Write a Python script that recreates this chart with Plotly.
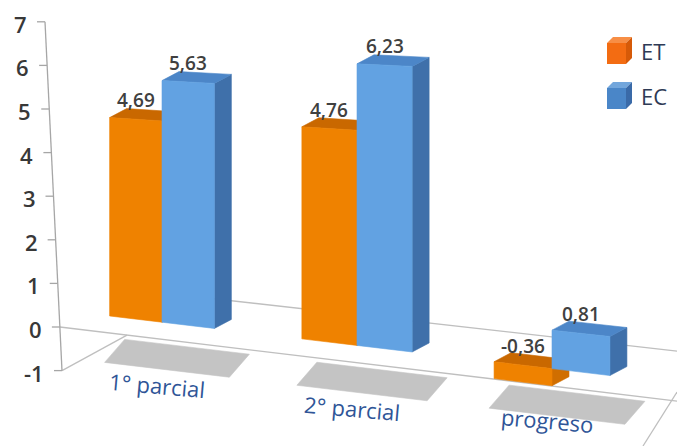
import plotly.graph_objects as go

# ---------------------------------------------------------------- data
categories = ["1° parcial", "2° parcial", "progreso"]
series_names = ["ET", "EC"]
et_values = [4.69, 4.76, -0.36]
ec_values = [5.63, 6.23, 0.81]
y_tick_values = [-1, 0, 1, 2, 3, 4, 5, 6, 7]

# ---------------------------------------------------------------- styling
W, H = 677, 446
FONT = "Open Sans"
COLORS = {
    "ET": {"front": "#EF8200", "side": "#D06E00", "top": "#C96800"},
    "EC": {"front": "#62A2E2", "side": "#3F70AA", "top": "#4C86C8"},
}
LINE_GREY = "#BFBFBF"
SHADOW_GREY = "#C4C4C4"

# ---------------------------------------------------------------- projection
# The chart is drawn as a pseudo-3D column chart: every column is a box whose
# screen position comes from a light perspective of (category, value).
AXIS_ZERO_PX = 327.0     # screen row of value 0 on the value axis
AXIS_UNIT_PX = 43.6      # pixels per unit on the value axis
GROUP_X0 = 162.0         # screen x of the first category centre
GROUP_STEP = 195.0       # spacing between categories
DEPTH = (17.0, -9.0)     # receding edge of each column
FLOOR_DEPTH = (20.0, -23.0)


def base_row(xp):
    """Screen row of value 0 at the column fronts (floor tilts to the right)."""
    return 319.0 + 0.119 * (xp - 135.0)


def unit_px(xp):
    """Pixels per value unit at the column fronts (slightly larger to the right)."""
    return 42.6 + 0.0117 * (xp - 135.0)


def col_row(xp, v):
    return base_row(xp) - unit_px(xp) * v


def to_axes(xp, yp):
    """Screen pixel -> (category units, value units) of the plot axes."""
    return (xp - GROUP_X0) / GROUP_STEP, (AXIS_ZERO_PX - yp) / AXIS_UNIT_PX


def axis_x_px(v):
    """The value axis leans slightly (perspective)."""
    return 45.0 + (7.0 - v) * 17.0 / 8.0


def column_faces(xl, xr, v):
    hi, lo = max(v, 0.0), min(v, 0.0)
    dx, dy = DEPTH
    front = [(xl, col_row(xl, lo)), (xr, col_row(xr, lo)),
             (xr, col_row(xr, hi)), (xl, col_row(xl, hi))]
    side = [(xr, col_row(xr, lo)), (xr + dx, col_row(xr, lo) + dy),
            (xr + dx, col_row(xr, hi) + dy), (xr, col_row(xr, hi))]
    top = [(xl, col_row(xl, hi)), (xr, col_row(xr, hi)),
           (xr + dx, col_row(xr, hi) + dy), (xl + dx, col_row(xl, hi) + dy)]
    return front, side, top


def poly_trace(polys, color, name):
    xs, ys = [], []
    for p in polys:
        for xp, yp in p + [p[0]]:
            x, y = to_axes(xp, yp)
            xs.append(x)
            ys.append(y)
        xs.append(None)
        ys.append(None)
    return go.Scatter(x=xs, y=ys, mode="lines", fill="toself",
                      fillcolor=color, line=dict(color=color, width=0.6),
                      name=name, legendgroup=name, showlegend=False,
                      hoverinfo="skip")


def line_trace(segments, color, width):
    xs, ys = [], []
    for seg in segments:
        for xp, yp in seg:
            x, y = to_axes(xp, yp)
            xs.append(x)
            ys.append(y)
        xs.append(None)
        ys.append(None)
    return go.Scatter(x=xs, y=ys, mode="lines", line=dict(color=color, width=width),
                      showlegend=False, hoverinfo="skip")


def fmt(v):
    return f"{v:.2f}".replace(".", ",")


fig = go.Figure()

# ---------------------------------------------------------------- columns geometry
centres = [GROUP_X0 + GROUP_STEP * i for i in range(len(categories))]
bars = {"ET": [], "EC": []}
for i, c in enumerate(centres):
    w = 1.22 * unit_px(c)
    bars["ET"].append((c - w, c, et_values[i]))
    bars["EC"].append((c, c + w, ec_values[i]))

# ---------------------------------------------------------------- floor shadows
shadows = []
fdx, fdy = FLOOR_DEPTH
for (etl, _, _), (_, ecr, _) in zip(bars["ET"], bars["EC"]):
    l, r = etl - 5.0, ecr + 15.0
    shadows.append([(l, base_row(l) + 47.0), (r, base_row(r) + 47.0),
                    (r + fdx, base_row(r) + 47.0 + fdy), (l + fdx, base_row(l) + 47.0 + fdy)])
fig.add_trace(poly_trace(shadows, SHADOW_GREY, "floor"))

# ---------------------------------------------------------------- floor edges
front_edge = [(axis_x_px(0), AXIS_ZERO_PX), (W, AXIS_ZERO_PX + 0.12 * (W - axis_x_px(0)))]
back_edge = [(115.0, 302.0 + 0.113 * (115.0 - 243.0)), (W, 302.0 + 0.113 * (W - 243.0))]
left_edge = [(axis_x_px(-1), AXIS_ZERO_PX + AXIS_UNIT_PX), (127.0, AXIS_ZERO_PX + 0.12 * (127.0 - axis_x_px(0)))]
right_edge = [(643.0, H), (W, 392.0)]
fig.add_trace(line_trace([back_edge, front_edge, left_edge, right_edge], LINE_GREY, 1.3))

# ---------------------------------------------------------------- value axis
axis_segments = [[(axis_x_px(y_tick_values[-1]), AXIS_ZERO_PX - AXIS_UNIT_PX * y_tick_values[-1]),
                  (axis_x_px(y_tick_values[0]), AXIS_ZERO_PX - AXIS_UNIT_PX * y_tick_values[0])]]
for v in y_tick_values:
    yp = AXIS_ZERO_PX - AXIS_UNIT_PX * v
    axis_segments.append([(axis_x_px(v) - 8.0, yp), (axis_x_px(v), yp)])
fig.add_trace(line_trace(axis_segments, "#A6A6A6", 1.3))

# ---------------------------------------------------------------- columns
for name in series_names:
    fronts, sides, tops = [], [], []
    for xl, xr, v in bars[name]:
        f, s, t = column_faces(xl, xr, v)
        fronts.append(f)
        sides.append(s)
        tops.append(t)
    fig.add_trace(poly_trace(sides, COLORS[name]["side"], name))
    fig.add_trace(poly_trace(tops, COLORS[name]["top"], name))
    fig.add_trace(poly_trace(fronts, COLORS[name]["front"], name))

annotations = []

# value labels above every column
for name in series_names:
    for xl, xr, v in bars[name]:
        xc = 0.5 * (xl + xr)
        yp = col_row(xc, max(v, 0.0)) + DEPTH[1] - 10.0
        x, y = to_axes(xc, yp)
        annotations.append(dict(x=x, y=y, xref="x", yref="y", text=fmt(v),
                                showarrow=False, xanchor="center", yanchor="middle",
                                font=dict(family=FONT, size=19, color="#404040", weight=600)))

# value-axis tick labels
for v in y_tick_values:
    x, _ = to_axes(axis_x_px(v) - 16.0, 0)
    annotations.append(dict(x=x, y=v, xref="x", yref="y", text=str(v), showarrow=False,
                            xanchor="right", yanchor="middle", yshift=-2,
                            font=dict(family=FONT, size=22, color="#383838", weight=600)))

# category labels on the floor (the last one kept inside the canvas)
for c, label in zip(centres, categories):
    x, y = to_axes(c - 5.0, min(base_row(c) + 63.0, H - 26.0))
    annotations.append(dict(x=x, y=y, xref="x", yref="y", text=label, showarrow=False,
                            xanchor="center", yanchor="middle", textangle=5,
                            font=dict(family=FONT, size=22, color="#2F5597")))

# ---------------------------------------------------------------- legend (cube icons)
LEGEND_ICONS = {
    "ET": {"front": "#F36C12", "top": "#F78E45", "side": "#D65A08"},
    "EC": {"front": "#4A86C8", "top": "#72A6DC", "side": "#3A6AA8"},
}


def paper_path(pts):
    return "M " + " L ".join(f"{x / W:.5f},{1 - y / H:.5f}" for x, y in pts) + " Z"


shapes = []
for k, name in enumerate(series_names):
    top_y = 43.0 + 45.0 * k
    x0, x1, d = 607.0, 626.0, 6.0
    col = LEGEND_ICONS[name]
    shapes.append(dict(type="path", xref="paper", yref="paper", line=dict(width=0),
                       fillcolor=col["front"],
                       path=paper_path([(x0, top_y), (x1, top_y), (x1, top_y + 21), (x0, top_y + 21)])))
    shapes.append(dict(type="path", xref="paper", yref="paper", line=dict(width=0),
                       fillcolor=col["top"],
                       path=paper_path([(x0, top_y), (x1, top_y), (x1 + d, top_y - d), (x0 + d, top_y - d)])))
    shapes.append(dict(type="path", xref="paper", yref="paper", line=dict(width=0),
                       fillcolor=col["side"],
                       path=paper_path([(x1, top_y), (x1 + d, top_y - d), (x1 + d, top_y + 15), (x1, top_y + 21)])))
    annotations.append(dict(x=639.0 / W, y=1 - (top_y + 8.0) / H, xref="paper", yref="paper",
                            text=name, showarrow=False, xanchor="left", yanchor="middle",
                            font=dict(family=FONT, size=22, color="#2E3A55")))

x_lo, _ = to_axes(0, 0)
x_hi, _ = to_axes(W, 0)
_, y_hi = to_axes(0, 0)
_, y_lo = to_axes(0, H)

fig.update_layout(
    width=W, height=H,
    margin=dict(l=0, r=0, t=0, b=0),
    paper_bgcolor="white", plot_bgcolor="white",
    showlegend=False,
    xaxis=dict(range=[x_lo, x_hi], visible=False, fixedrange=True),
    yaxis=dict(range=[y_lo, y_hi], visible=False, fixedrange=True),
    annotations=annotations,
    shapes=shapes,
)

fig.write_html("out.html")
